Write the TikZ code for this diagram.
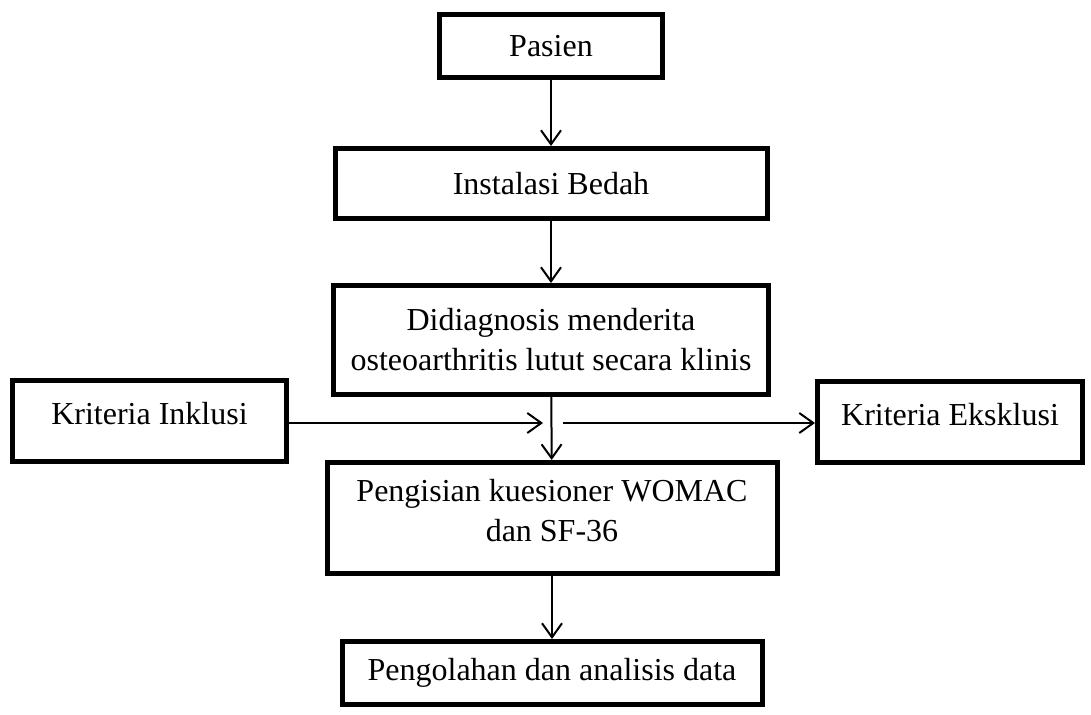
\documentclass[tikz,border=0pt]{standalone}
\usepackage{fontspec}
\setmainfont{Liberation Serif}
\usetikzlibrary{arrows.meta,positioning,calc}

\begin{document}
\begin{tikzpicture}[
      x=0.5pt,y=-0.5pt,
      every node/.style={font=\fontsize{16}{20}\selectfont},
      flowBox/.style={draw=black,fill=white,line width=2.5pt,align=center,
                      inner sep=0pt},
      arFlow/.style={-{Straight Barb[length=7pt,width=10pt,line width=1pt]},line width=1pt,black}
    ]
    \useasboundingbox (0,0) rectangle (1091,715);

    % Main column
    \node(pasien)[flowBox,minimum width=111.5pt,minimum height=31.5pt] at (551,46) {Pasien};
    \node(bedah)[flowBox,minimum width=216pt,minimum height=35pt] at (551,183.5) {Instalasi Bedah};
    \node(diag)[flowBox,minimum width=217.5pt,minimum height=54.5pt] at (551,340) {%
      Didiagnosis menderita\\osteoarthritis lutut secara klinis};
    \node(isi)[flowBox,minimum width=225pt,minimum height=55.5pt] at (552,518) {%
      Pengisian kuesioner WOMAC\\dan SF-36\\[-12pt]};
    \node(olah)[flowBox,minimum width=210pt,minimum height=31.5pt] at (552,673) {Pengolahan dan analisis data};

    % Side boxes
    \node(inklusi)[flowBox,minimum width=137pt,minimum height=40.5pt] at (149.5,421) {Kriteria Inklusi\\[-12pt]};
    \node(eksklusi)[flowBox,minimum width=132.5pt,minimum height=40.5pt] at (950,422) {Kriteria Eksklusi\\[-12pt]};

    % Junction points beside the main line
    \coordinate (jL) at (543,423);
    \coordinate (jR) at (563,423);

    % Downward arrows
    \draw[arFlow] (pasien) -- (bedah);
    \draw[arFlow] (bedah) -- (diag);
    \draw[arFlow] (diag) -- (isi);
    \draw[arFlow] (isi) -- (olah);

    % Criteria arrows
    \draw[arFlow] (inklusi.east |- jL) -- (jL);
    \draw[arFlow] (jR) -- (eksklusi.west |- jR);
  \end{tikzpicture}
\end{document}
